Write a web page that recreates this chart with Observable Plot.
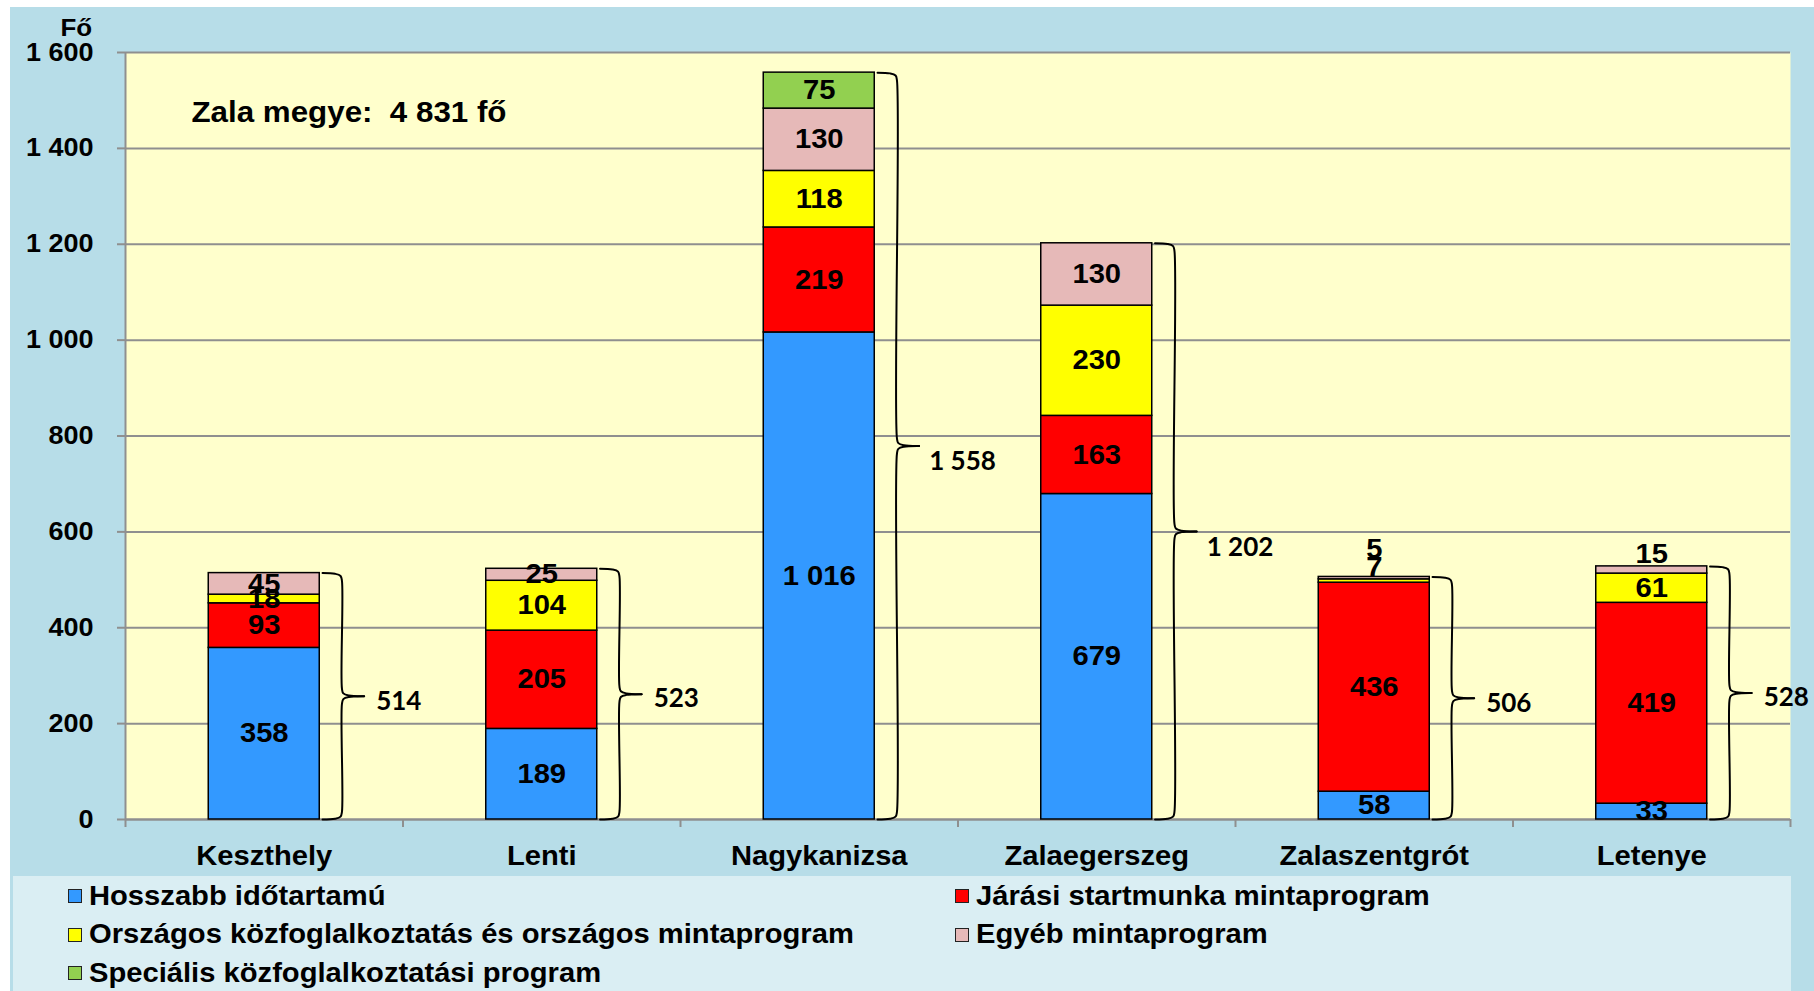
<!DOCTYPE html>
<html>
<head>
<meta charset="utf-8">
<script src="https://cdn.jsdelivr.net/npm/d3@7"></script>
<script src="https://cdn.jsdelivr.net/npm/@observablehq/plot@0.6"></script>
<style>
  html, body { margin: 0; padding: 0; background: #ffffff; }
  #page { position: relative; width: 1814px; height: 991px; overflow: hidden; }
  #bg { position: absolute; left: 10px; top: 7px; width: 1804px; height: 984px; background: #B7DDE8; }
  #chart { position: absolute; left: 0; top: 0; }
  #legend {
    position: absolute; left: 13px; top: 876px; width: 1778px; height: 115px;
    background: #DAEEF3; box-sizing: border-box; padding: 1px 0 0 55px;
    display: grid; grid-template-columns: 887px 800px; grid-auto-rows: 38.5px;
    font-family: "Liberation Sans", Arial, sans-serif; font-weight: bold; font-size: 27px; color: #000;
  }
  .item { display: flex; align-items: center; white-space: nowrap; }
  .item .lbl { display: inline-block; transform: scaleX(1.08); transform-origin: left center; }
  .sw { width: 12px; height: 12px; border: 1.5px solid #222; margin-right: 7px; flex: none; }
</style>
</head>
<body>
<div id="page">
  <div id="bg"></div>
  <div id="chart"></div>
  <div id="legend"></div>
</div>
<script>
// ---- data ----
const categories = ["Keszthely", "Lenti", "Nagykanizsa", "Zalaegerszeg", "Zalaszentgrót", "Letenye"];
const seriesNames = [
  "Hosszabb időtartamú",
  "Járási startmunka mintaprogram",
  "Országos közfoglalkoztatás és országos mintaprogram",
  "Egyéb mintaprogram",
  "Speciális közfoglalkoztatási program"
];
const hosszabb  = [358, 189, 1016, 679, 58, 33];
const jarasi    = [93, 205, 219, 163, 436, 419];
const orszagos  = [18, 104, 118, 230, 7, 61];
const egyeb     = [45, 25, 130, 130, 5, 15];
const specialis = [0, 0, 75, 0, 0, 0];
const seriesColors = ["#3399FF", "#FF0000", "#FFFF00", "#E6B9B8", "#92D050"];
const yTicks = [0, 200, 400, 600, 800, 1000, 1200, 1400, 1600];
const yUnit = "Fő";
const countyName = "Zala megye";

// ---- derived tables ----
const seriesValues = [hosszabb, jarasi, orszagos, egyeb, specialis];
const fmt = v => d3.format(",")(v).replace(/,/g, " ");
const segments = [];
const totals = [];
categories.forEach((c, i) => {
  let acc = 0;
  let prevSmall = false;
  seriesValues.forEach((vals, s) => {
    const v = vals[i];
    if (v > 0) {
      const small = v < 16;
      segments.push({i, cat: c, series: seriesNames[s], value: v, y1: acc, y2: acc + v, small, stackedSmall: small && prevSmall});
      prevSmall = small;
    }
    acc += v;
  });
  totals.push({i, cat: c, total: acc});
});
const grandTotal = d3.sum(totals, d => d.total);

// brace geometry (in band units / value units)
const braceHook = 0.21, braceVert = 0.28, braceTip = 0.36, braceR = 16;
const bracePts = [];
totals.forEach(({i, total}) => {
  const T = total, M = total / 2;
  const upper = [[braceHook, T], [0.255, T - 1.5], [0.275, T - 6], [braceVert, T - braceR], [braceVert, M + braceR], [0.285, M + 6], [0.305, M + 1.5], [braceTip, M]];
  const lower = [[braceTip, M], [0.305, M - 1.5], [0.285, M - 6], [braceVert, M - braceR], [braceVert, braceR], [0.275, 6], [0.255, 1.5], [braceHook, 0]];
  upper.forEach(([dx, y]) => bracePts.push({x: i + dx, y, z: i + "u"}));
  lower.forEach(([dx, y]) => bracePts.push({x: i + dx, y, z: i + "l"}));
});

const catIdx = categories.map((c, i) => i);
const boundaries = d3.range(-0.5, categories.length, 1);
const font = "Liberation Sans, Arial, sans-serif";

const chart = Plot.plot({
  width: 1814,
  height: 876,
  marginLeft: 125,
  marginRight: 24,
  marginTop: 52,
  marginBottom: 57,
  style: {background: "transparent", color: "#000", fontFamily: font, fontWeight: "bold", overflow: "visible"},
  x: {type: "linear", domain: [-0.5, categories.length - 0.5], axis: null},
  y: {domain: [0, 1600], axis: null},
  color: {domain: seriesNames, range: seriesColors},
  marks: [
    Plot.frame({fill: "#FFFFCC", stroke: null}),
    Plot.gridY(yTicks, {stroke: "#8f8f8f", strokeOpacity: 1, strokeWidth: 2}),
    Plot.axisY({ticks: yTicks, tickSize: 8, tickPadding: 24, stroke: "#8f8f8f", strokeWidth: 2,
      tickFormat: fmt, fontSize: 25, fontWeight: "bold", fill: "#000"}),
    Plot.axisX({ticks: boundaries, tickSize: 8, tickFormat: () => "", stroke: "#8f8f8f", strokeWidth: 2}),
    Plot.axisX({ticks: catIdx, tickSize: 0, tickPadding: 26, tickFormat: i => categories[i],
      fontSize: 27, fontWeight: "bold", fill: "#000"}),
    Plot.ruleX([-0.5], {stroke: "#8f8f8f", strokeWidth: 2}),
    Plot.ruleY([0], {stroke: "#8f8f8f", strokeWidth: 2}),
    Plot.rect(segments, {x1: d => d.i - 0.2, x2: d => d.i + 0.2, y1: "y1", y2: "y2", fill: "series", stroke: "#000", strokeWidth: 1.5}),
    Plot.text(segments.filter(d => !d.small), {x: "i", y: d => (d.y1 + d.y2) / 2, text: d => fmt(d.value),
      fontSize: 27, fontWeight: "bold", fill: "#000"}),
    Plot.text(segments.filter(d => d.small), {x: "i", y: "y2", text: d => fmt(d.value), lineAnchor: "bottom",
      dy: -3, fontSize: 27, fontWeight: "bold", fill: "#000"}),
    Plot.line(bracePts, {x: "x", y: "y", z: "z", curve: "catmull-rom", stroke: "#000", strokeWidth: 2}),
    Plot.text(totals.filter(d => d.total <= 1000), {x: d => d.i + braceTip, y: d => d.total / 2, dx: 12, dy: 5, textAnchor: "start",
      text: d => fmt(d.total), fontFamily: "Lato, sans-serif", fontSize: 26, fontWeight: "bold", fill: "#000"}),
    Plot.text(totals.filter(d => d.total > 1000), {x: d => d.i + braceTip, y: d => d.total / 2, dx: 10, dy: 16, textAnchor: "start",
      text: d => fmt(d.total), fontFamily: "Lato, sans-serif", fontSize: 26, fontWeight: "bold", fill: "#000"}),
    Plot.text([yUnit], {frameAnchor: "top-left", dx: -65, dy: -24, lineAnchor: "middle", text: d => d, fontSize: 24, fontWeight: "bold", fill: "#000"}),
    Plot.text([`${countyName}:  ${fmt(grandTotal)} fő`], {frameAnchor: "top-left", dx: 66, dy: 60, textAnchor: "start", lineAnchor: "middle",
      text: d => d, fontSize: 29, fontWeight: "bold", fill: "#000", style: "white-space: pre"})
  ]
});
document.getElementById("chart").append(chart);

// small stacked labels (e.g. 5 above 7) need extra lift
segments.forEach(s => {
  if (!s.stackedSmall) return;
  const t = Array.from(chart.querySelectorAll("g[aria-label='text'] text")).find(el => el.textContent === fmt(s.value));
  if (t) t.setAttribute("transform", (t.getAttribute("transform") || "") + " translate(0,-16)");
});

// the reference's Arial-like lettering is slightly wider: stretch horizontally around each anchor
chart.querySelectorAll("text").forEach(t => {
  const ff = t.getAttribute("font-family") || (t.parentNode && t.parentNode.getAttribute && t.parentNode.getAttribute("font-family")) || "";
  if (/Lato/.test(ff)) return;
  let tr = t.getAttribute("transform") || "";
  const x = t.getAttribute("x");
  if (x !== null && /^-?[\d.]+$/.test(x)) {
    tr = `translate(${+x},0) ` + tr;
    t.removeAttribute("x");
  }
  t.setAttribute("transform", tr + " scale(1.08,1)");
});

// legend
const legend = document.getElementById("legend");
seriesNames.forEach((name, s) => {
  const item = document.createElement("div");
  item.className = "item";
  const sw = document.createElement("span");
  sw.className = "sw";
  sw.style.background = seriesColors[s];
  const label = document.createElement("span");
  label.className = "lbl";
  label.textContent = name;
  item.append(sw, label);
  legend.append(item);
});
</script>
</body>
</html>
